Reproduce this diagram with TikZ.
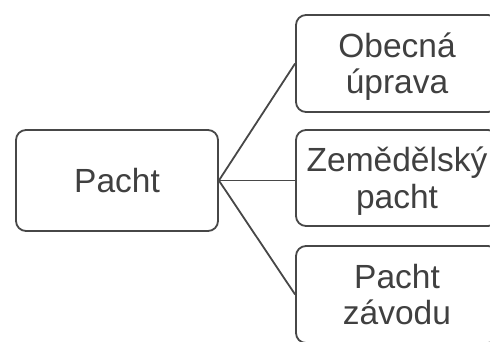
\documentclass[tikz,border=0pt]{standalone}
\usepackage{fontspec}
\setmainfont{Liberation Sans}

\begin{document}
\begin{tikzpicture}[x=1pt,y=1pt]
	 \tikzstyle{box}=[draw=black!72,line width=1.8pt,rounded corners=10pt,minimum width=202pt,minimum height=97pt,inner sep=0pt,align=center,text=black!75,font=\fontsize{33.5}{36.5}\selectfont,text height=60.5pt,text depth=0pt]
	 \tikzstyle{single box} = [box,text height=24pt,minimum height=101pt]
	 \tikzstyle{edge} = [-,black!72,line width=1.8pt]

	 \useasboundingbox (0,0) rectangle (490,341);
	 \clip (0,0) rectangle (490,341);

	 \node[single box] (pacht) at (117,160.5) {Pacht};
	 \node[box] (obecna) at (397,277.5) {Obecná\\úprava};
	 \node[box,minimum height=96pt] (zemedelsky) at (397,163) {Zemědělský\\pacht};
	 \node[box] (zavod) at (397,46.5) {Pacht\\závodu};

	 \draw[edge] (pacht.east) -- (obecna.west);
	 \draw[edge] (pacht.east) -- (pacht.east -| zemedelsky.west);
	 \draw[edge] (pacht.east) -- (zavod.west);
\end{tikzpicture}
\end{document}
